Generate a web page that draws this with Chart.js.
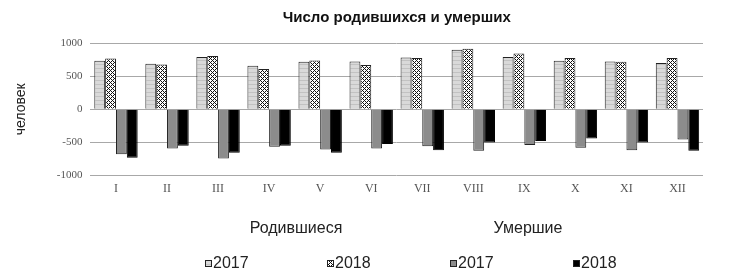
<!DOCTYPE html>
<html>
<head>
<meta charset="utf-8">
<script src="https://cdn.jsdelivr.net/npm/chart.js@4"></script>
<style>
  html, body { margin: 0; padding: 0; background: #fff; }
  #wrap { width: 741px; height: 279px; }
</style>
</head>
<body>
<div id="wrap"><canvas id="mycanvas" width="741" height="279"></canvas></div>
<script>
// months (roman numerals)
var months = ['I', 'II', 'III', 'IV', 'V', 'VI', 'VII', 'VIII', 'IX', 'X', 'XI', 'XII'];
// births
var born2017 = [732, 687, 788, 657, 717, 722, 783, 899, 788, 732, 722, 697];
var born2018 = [768, 677, 803, 606, 737, 667, 773, 914, 843, 773, 717, 773];
// deaths (drawn below zero)
var died2017 = [-677, -591, -742, -566, -606, -591, -556, -626, -540, -581, -616, -455];
var died2018 = [-732, -550, -657, -550, -657, -525, -616, -500, -480, -439, -500, -626];
var yTicks = [1000, 500, 0, -500, -1000];

function makePattern(size, draw) {
	var c = document.createElement('canvas');
	c.width = size; c.height = size;
	var g = c.getContext('2d');
	draw(g, size);
	return document.getElementById('mycanvas').getContext('2d').createPattern(c, 'repeat');
}

// light grey with faint horizontal lines
var stripes = makePattern(4, function(g, s){
	g.fillStyle = '#d9d9d9';
	g.fillRect(0, 0, s, s);
	g.fillStyle = '#c2c2c2';
	g.fillRect(0, 0, s, 1);
});

// diagonal crosshatch
var hatch = makePattern(4, function(g, s){
	g.fillStyle = '#ffffff';
	g.fillRect(0, 0, s, s);
	g.fillStyle = '#111111';
	for (var x = 0; x < s; x++) {
		for (var y = 0; y < s; y++) {
			if ((x + y) % 4 === 0 || ((x - y) + 4) % 4 === 0) g.fillRect(x, y, 1, 1);
		}
	}
});

var groups = [
	{text: 'Родившиеся', x: 296},
	{text: 'Умершие', x: 528}
];
var legendX = [205, 327, 450, 573];

var legendPlugin = {
	id: 'groupLegend',
	afterDraw: function(chart) {
		var ctx = chart.ctx;
		ctx.save();
		ctx.font = '16px "Liberation Sans", Arial, sans-serif';
		ctx.fillStyle = '#222';
		ctx.textBaseline = 'middle';
		ctx.textAlign = 'center';
		groups.forEach(function(g){
			ctx.fillText(g.text, g.x, 229);
		});
		ctx.textAlign = 'left';
		chart.data.datasets.forEach(function(ds, i){
			var x = legendX[i];
			ctx.fillStyle = ds.backgroundColor;
			ctx.fillRect(x, 260, 7, 7);
			ctx.strokeStyle = '#222';
			ctx.lineWidth = 1;
			ctx.strokeRect(x + 0.5, 260.5, 6, 6);
			ctx.fillStyle = '#222';
			ctx.fillText(ds.label, x + 8, 264);
		});
		ctx.restore();
	}
};

var chartdata = {
	labels: months,
	datasets: [
		{label: '2017', backgroundColor: stripes, borderColor: '#222', borderWidth: 1, data: born2017},
		{label: '2018', backgroundColor: hatch, borderColor: '#222', borderWidth: 1, data: born2018},
		{label: '2017', backgroundColor: '#8c8c8c', borderColor: '#222', borderWidth: 1, data: died2017},
		{label: '2018', backgroundColor: '#000000', borderColor: '#000', borderWidth: 1, data: died2018}
	]
};

var ctx = document.getElementById('mycanvas');

var barGraph = new Chart(ctx, {
	type: 'bar',
	data: chartdata,
	plugins: [legendPlugin],
	options: {
		responsive: false,
		animation: false,
		layout: {padding: {left: 13, right: 38, top: 0, bottom: 77}},
		datasets: {bar: {categoryPercentage: 0.85, barPercentage: 1}},
		plugins: {
			legend: {display: false},
			tooltip: {enabled: false},
			title: {
				display: true,
				fullSize: false,
				text: 'Число родившихся и умерших',
				color: '#111',
				font: {family: '"Liberation Sans", Arial, sans-serif', size: 15, weight: 'bold'},
				padding: {top: 9, bottom: 16}
			}
		},
		scales: {
			x: {
				grid: {display: false, drawTicks: false},
				border: {display: false},
				ticks: {
					color: '#555',
					padding: 6,
					font: {family: '"Liberation Serif", "Times New Roman", serif', size: 12}
				}
			},
			y: {
				min: -1000,
				max: 1000,
				afterBuildTicks: function(scale){
					scale.ticks = yTicks.map(function(v){ return {value: v}; });
				},
				grid: {color: '#a8a8a8', lineWidth: 1, drawTicks: false},
				border: {display: false},
				ticks: {
					color: '#555',
					padding: 8,
					font: {family: '"Liberation Serif", "Times New Roman", serif', size: 11},
					callback: function(v){ return String(v); }
				},
				title: {
					display: true,
					text: 'человек',
					color: '#222',
					padding: {top: 0, bottom: 19},
					font: {family: '"Liberation Sans", Arial, sans-serif', size: 14}
				}
			}
		}
	}
});
</script>
</body>
</html>
